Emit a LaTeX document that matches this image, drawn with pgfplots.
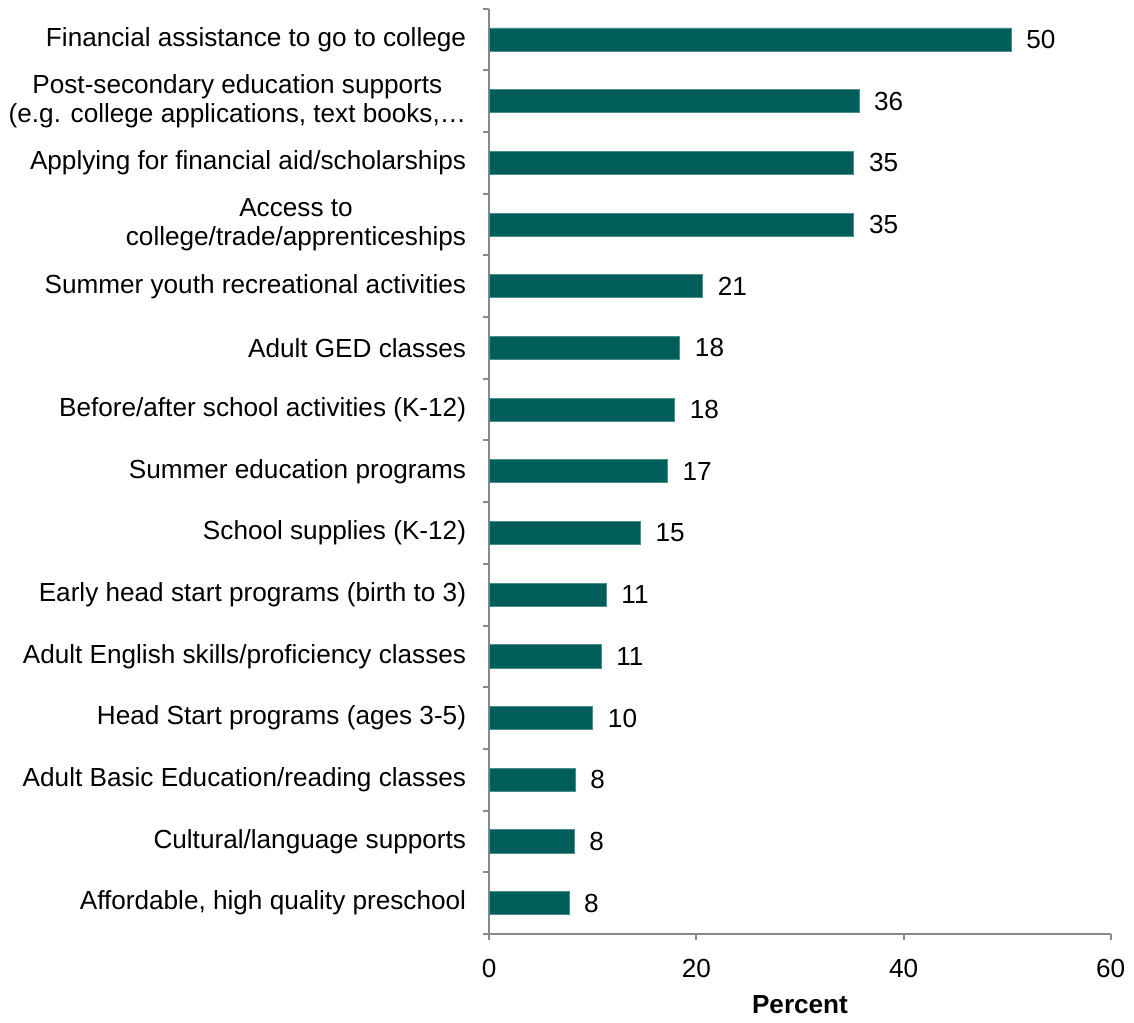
\documentclass[border=0pt]{standalone}
\usepackage{fontspec}
\setmainfont{Liberation Sans}
\usepackage{pgfplots}
\pgfplotsset{compat=1.18}
\definecolor{barteal}{HTML}{005E5A}
\definecolor{axgray}{HTML}{898989}
\begin{document}
\fontsize{13}{15}\selectfont
\begin{tikzpicture}
\begin{axis}[
  scale only axis,
  width=309pt, height=460pt,
  xbar, bar width=11.5pt,
  xmin=0, xmax=60,
  ymin=-0.5, ymax=14.5,
  y dir=reverse,
  axis x line*=bottom, axis y line*=left,
  axis line style={axgray, line width=1pt},
  xtick={0,20,40,60},
  ytick={-0.5,0.5,...,14.5},
  yticklabels={},
  extra y ticks={0,...,14},
  extra y tick labels={
    Financial assistance to go to college,
    {Post-secondary education supports\\(e.g. college applications, text books,…},
    Applying for financial aid/scholarships,
    {Access to\\college/trade/apprenticeships},
    Summer youth recreational activities,
    Adult GED classes,
    Before/after school activities (K-12),
    Summer education programs,
    School supplies (K-12),
    Early head start programs (birth to 3),
    Adult English skills/proficiency classes,
    Head Start programs (ages 3-5),
    Adult Basic Education/reading classes,
    Cultural/language supports,
    {Affordable, high quality preschool}},
  extra y tick style={major tick length=0pt, ytick style={draw=none}},
  yticklabel style={align=center, font=\fontsize{13}{14.5}\selectfont, xshift=-7pt},
  xticklabel style={font=\fontsize{13}{15}\selectfont, yshift=-5pt},
  /pgf/number format/assume math mode=true,
  major tick length=3pt,
  tick align=outside,
  ytick style={draw=axgray, line width=1pt},
  xtick style={draw=axgray, line width=1pt},
  xlabel={\textbf{Percent}},
  xlabel style={font=\fontsize{13}{15}\selectfont, yshift=0pt},
  nodes near coords,
  nodes near coords style={font=\fontsize{13}{15}\selectfont, black, xshift=3pt,
    /pgf/number format/fixed, /pgf/number format/precision=0},
  point meta=x,
]
\addplot[fill=barteal, draw=barteal!70!white, line width=0.4pt] coordinates {
(50.4,0) (35.7,1) (35.2,2) (35.2,3) (20.6,4) (18.4,5) (17.9,6) (17.2,7)
(14.6,8) (11.3,9) (10.8,10) (10.0,11) (8.3,12) (8.2,13) (7.7,14)
};
\end{axis}
\end{tikzpicture}
\end{document}
